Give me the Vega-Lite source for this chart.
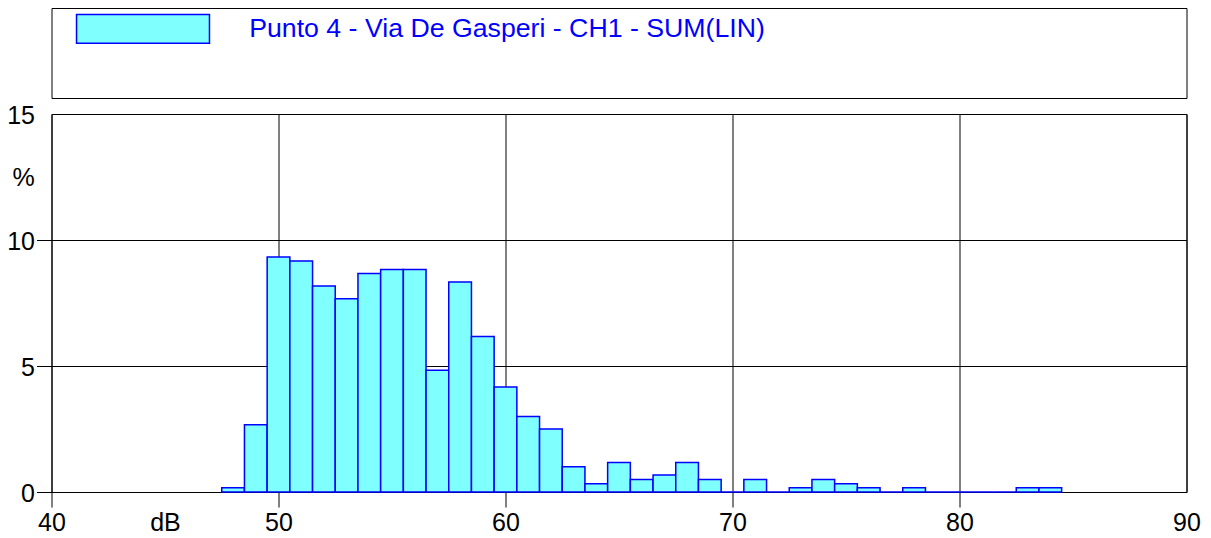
{
  "$schema": "https://vega.github.io/schema/vega-lite/v6.json",
  "background": "white",
  "padding": {"left": 5.5, "top": 7, "right": 4, "bottom": 4},
  "bounds": "flush",
  "spacing": 16,
  "config": {
    "font": "Liberation Sans",
    "view": {"stroke": "black", "strokeWidth": 1}
  },
  "vconcat": [
    {
      "width": 1135,
      "height": 90,
      "view": {"stroke": "black", "strokeWidth": 1, "fill": "white"},
      "data": {"values": [{"note": "legend box"}]},
      "mark": {"type": "point", "opacity": 0},
      "encoding": {}
    },
    {
      "width": 1135,
      "height": 378,
      "data": {
        "values": [
          {"series": "Punto 4 - Via De Gasperi - CH1 - SUM(LIN)", "lo": 47.5, "hi": 48.5, "pct": 0.17},
          {"series": "Punto 4 - Via De Gasperi - CH1 - SUM(LIN)", "lo": 48.5, "hi": 49.5, "pct": 2.67},
          {"series": "Punto 4 - Via De Gasperi - CH1 - SUM(LIN)", "lo": 49.5, "hi": 50.5, "pct": 9.33},
          {"series": "Punto 4 - Via De Gasperi - CH1 - SUM(LIN)", "lo": 50.5, "hi": 51.5, "pct": 9.17},
          {"series": "Punto 4 - Via De Gasperi - CH1 - SUM(LIN)", "lo": 51.5, "hi": 52.5, "pct": 8.17},
          {"series": "Punto 4 - Via De Gasperi - CH1 - SUM(LIN)", "lo": 52.5, "hi": 53.5, "pct": 7.67},
          {"series": "Punto 4 - Via De Gasperi - CH1 - SUM(LIN)", "lo": 53.5, "hi": 54.5, "pct": 8.67},
          {"series": "Punto 4 - Via De Gasperi - CH1 - SUM(LIN)", "lo": 54.5, "hi": 55.5, "pct": 8.83},
          {"series": "Punto 4 - Via De Gasperi - CH1 - SUM(LIN)", "lo": 55.5, "hi": 56.5, "pct": 8.83},
          {"series": "Punto 4 - Via De Gasperi - CH1 - SUM(LIN)", "lo": 56.5, "hi": 57.5, "pct": 4.83},
          {"series": "Punto 4 - Via De Gasperi - CH1 - SUM(LIN)", "lo": 57.5, "hi": 58.5, "pct": 8.33},
          {"series": "Punto 4 - Via De Gasperi - CH1 - SUM(LIN)", "lo": 58.5, "hi": 59.5, "pct": 6.17},
          {"series": "Punto 4 - Via De Gasperi - CH1 - SUM(LIN)", "lo": 59.5, "hi": 60.5, "pct": 4.17},
          {"series": "Punto 4 - Via De Gasperi - CH1 - SUM(LIN)", "lo": 60.5, "hi": 61.5, "pct": 3.0},
          {"series": "Punto 4 - Via De Gasperi - CH1 - SUM(LIN)", "lo": 61.5, "hi": 62.5, "pct": 2.5},
          {"series": "Punto 4 - Via De Gasperi - CH1 - SUM(LIN)", "lo": 62.5, "hi": 63.5, "pct": 1.0},
          {"series": "Punto 4 - Via De Gasperi - CH1 - SUM(LIN)", "lo": 63.5, "hi": 64.5, "pct": 0.33},
          {"series": "Punto 4 - Via De Gasperi - CH1 - SUM(LIN)", "lo": 64.5, "hi": 65.5, "pct": 1.17},
          {"series": "Punto 4 - Via De Gasperi - CH1 - SUM(LIN)", "lo": 65.5, "hi": 66.5, "pct": 0.5},
          {"series": "Punto 4 - Via De Gasperi - CH1 - SUM(LIN)", "lo": 66.5, "hi": 67.5, "pct": 0.67},
          {"series": "Punto 4 - Via De Gasperi - CH1 - SUM(LIN)", "lo": 67.5, "hi": 68.5, "pct": 1.17},
          {"series": "Punto 4 - Via De Gasperi - CH1 - SUM(LIN)", "lo": 68.5, "hi": 69.5, "pct": 0.5},
          {"series": "Punto 4 - Via De Gasperi - CH1 - SUM(LIN)", "lo": 69.5, "hi": 70.5, "pct": 0},
          {"series": "Punto 4 - Via De Gasperi - CH1 - SUM(LIN)", "lo": 70.5, "hi": 71.5, "pct": 0.5},
          {"series": "Punto 4 - Via De Gasperi - CH1 - SUM(LIN)", "lo": 71.5, "hi": 72.5, "pct": 0},
          {"series": "Punto 4 - Via De Gasperi - CH1 - SUM(LIN)", "lo": 72.5, "hi": 73.5, "pct": 0.17},
          {"series": "Punto 4 - Via De Gasperi - CH1 - SUM(LIN)", "lo": 73.5, "hi": 74.5, "pct": 0.5},
          {"series": "Punto 4 - Via De Gasperi - CH1 - SUM(LIN)", "lo": 74.5, "hi": 75.5, "pct": 0.33},
          {"series": "Punto 4 - Via De Gasperi - CH1 - SUM(LIN)", "lo": 75.5, "hi": 76.5, "pct": 0.17},
          {"series": "Punto 4 - Via De Gasperi - CH1 - SUM(LIN)", "lo": 76.5, "hi": 77.5, "pct": 0},
          {"series": "Punto 4 - Via De Gasperi - CH1 - SUM(LIN)", "lo": 77.5, "hi": 78.5, "pct": 0.17},
          {"series": "Punto 4 - Via De Gasperi - CH1 - SUM(LIN)", "lo": 78.5, "hi": 79.5, "pct": 0},
          {"series": "Punto 4 - Via De Gasperi - CH1 - SUM(LIN)", "lo": 79.5, "hi": 80.5, "pct": 0},
          {"series": "Punto 4 - Via De Gasperi - CH1 - SUM(LIN)", "lo": 80.5, "hi": 81.5, "pct": 0},
          {"series": "Punto 4 - Via De Gasperi - CH1 - SUM(LIN)", "lo": 81.5, "hi": 82.5, "pct": 0},
          {"series": "Punto 4 - Via De Gasperi - CH1 - SUM(LIN)", "lo": 82.5, "hi": 83.5, "pct": 0.17},
          {"series": "Punto 4 - Via De Gasperi - CH1 - SUM(LIN)", "lo": 83.5, "hi": 84.5, "pct": 0.17}
        ]
      },
      "mark": {"type": "bar", "stroke": "#0000FF", "strokeWidth": 1.5, "opacity": 1},
      "encoding": {
        "x": {
          "field": "lo",
          "type": "quantitative",
          "scale": {"domain": [40, 90], "nice": false, "zero": false},
          "axis": {
            "values": [40, 50, 60, 70, 80, 90],
            "format": "d",
            "domain": false,
            "grid": true,
            "gridColor": "black",
            "gridOpacity": 1,
            "gridWidth": 1,
            "ticks": true,
            "tickSize": 15,
            "tickColor": "black",
            "tickWidth": 1,
            "tickOpacity": {"condition": {"test": "datum.value == 90", "value": 0}, "value": 1},
            "labelFontSize": 25,
            "labelColor": "black",
            "labelBaseline": "alphabetic",
            "labelPadding": 23,
            "labelFlush": false,
            "labelOverlap": false,
            "title": "dB",
            "titleFontSize": 25,
            "titleFontWeight": "normal",
            "titleColor": "black",
            "titleX": 113.5,
            "titleY": 38.4,
            "titleBaseline": "alphabetic",
            "titleAlign": "center"
          }
        },
        "x2": {"field": "hi"},
        "y": {
          "field": "pct",
          "type": "quantitative",
          "scale": {"domain": [0, 15], "nice": false},
          "axis": {
            "values": [0, 5, 10, 15],
            "format": "d",
            "domain": false,
            "grid": true,
            "gridColor": "black",
            "gridOpacity": 1,
            "gridWidth": 1,
            "ticks": true,
            "tickSize": 15,
            "tickColor": "black",
            "tickWidth": 1,
            "tickOpacity": {"condition": {"test": "datum.value == 15", "value": 0}, "value": 1},
            "labelFontSize": 25,
            "labelColor": "black",
            "labelBaseline": "alphabetic",
            "labelOffset": 9.5,
            "labelPadding": 2,
            "labelFlush": false,
            "labelOverlap": false,
            "title": "%",
            "titleAngle": 0,
            "titleFontSize": 25,
            "titleFontWeight": "normal",
            "titleColor": "black",
            "titleX": -28.5,
            "titleY": 71,
            "titleBaseline": "alphabetic",
            "titleAlign": "center"
          }
        },
        "y2": {"datum": 0},
        "fill": {
          "field": "series",
          "type": "nominal",
          "scale": {"range": ["#80FFFF"]},
          "legend": {
            "orient": "none",
            "legendX": 77,
            "legendY": 6.4,
            "title": null,
            "padding": 0,
            "symbolType": "M-5,-1.08H5V1.08H-5Z",
            "symbolSize": 707,
            "symbolStrokeColor": "#0000FF",
            "symbolStrokeWidth": 1.5,
            "symbolOpacity": 1,
            "labelFontSize": 26.7,
            "labelColor": "#0000FF",
            "labelOffset": 91.7,
            "labelLimit": 1000
          }
        }
      }
    }
  ]
}
